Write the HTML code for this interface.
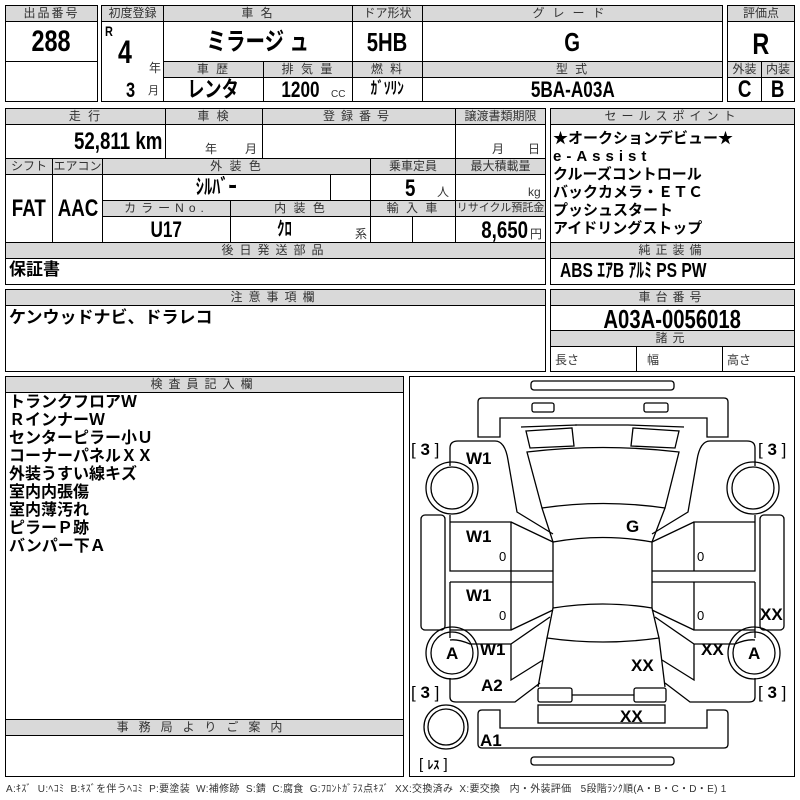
<!DOCTYPE html>
<html><head><meta charset="utf-8">
<style>
*{margin:0;padding:0;box-sizing:border-box}
body{width:800px;height:800px;background:#fff;position:relative;overflow:hidden;font-family:"Liberation Sans","Noto Sans CJK JP",sans-serif;color:#000}
.h{position:absolute;background:#d9d9d9;border:1px solid #000;font-size:12px;line-height:14px;text-align:center;color:#333;letter-spacing:2px;white-space:nowrap;overflow:hidden}
.v{position:absolute;font-weight:bold;text-align:center;white-space:nowrap;line-height:1}
.n{display:inline-block;transform:scaleX(.78);transform-origin:center}
.nl{display:inline-block;transform:scaleX(.78);transform-origin:left}
.nr{display:inline-block;transform:scaleX(.78);transform-origin:right}
.c{position:absolute;border:1px solid #000;background:#fff}
.s{position:absolute;font-size:12px;color:#333;white-space:nowrap;line-height:1}
.t{position:absolute;font-weight:bold;white-space:nowrap;line-height:1}
.d div{white-space:nowrap}
</style></head><body>

<div class="c" style="left:5px;top:5px;width:93px;height:97px"></div>
<div class="h" style="left:5px;top:5px;width:93px;height:17px">出品番号</div>
<div class="c" style="left:5px;top:61px;width:93px;height:41px"></div>
<div class="v" style="left:5px;top:27px;width:93px;font-size:30px"><span class="n">288</span></div>

<div class="c" style="left:101px;top:5px;width:622px;height:97px"></div>
<div class="h" style="left:101px;top:5px;width:63px;height:17px;letter-spacing:0">初度登録</div>
<div class="h" style="left:163px;top:5px;width:190px;height:17px">車 名</div>
<div class="h" style="left:352px;top:5px;width:71px;height:17px;letter-spacing:0">ドア形状</div>
<div class="h" style="left:422px;top:5px;width:301px;height:17px;letter-spacing:8px">グレード</div>
<div class="c" style="left:163px;top:21px;width:190px;height:41px"></div>
<div class="c" style="left:352px;top:21px;width:71px;height:41px"></div>
<div class="c" style="left:422px;top:21px;width:301px;height:41px"></div>
<div class="h" style="left:163px;top:61px;width:101px;height:17px">車 歴</div>
<div class="h" style="left:263px;top:61px;width:90px;height:17px">排 気 量</div>
<div class="h" style="left:352px;top:61px;width:71px;height:17px">燃 料</div>
<div class="h" style="left:422px;top:61px;width:301px;height:17px">型 式</div>
<div class="c" style="left:163px;top:77px;width:101px;height:25px"></div>
<div class="c" style="left:263px;top:77px;width:90px;height:25px"></div>
<div class="c" style="left:352px;top:77px;width:71px;height:25px"></div>
<div class="t" style="left:105px;top:24px;font-size:14px"><span class="nl">R</span></div>
<div class="v" style="left:118px;top:36px;font-size:32px"><span class="nl">4</span></div>
<div class="s" style="left:149px;top:62px">年</div>
<div class="v" style="left:126px;top:80px;font-size:21px"><span class="nl">3</span></div>
<div class="s" style="left:148px;top:86px;font-size:11px">月</div>
<div class="v" style="left:163px;top:30px;width:190px;font-size:25px"><span class="n">ミラージ ュ</span></div>
<div class="v" style="left:352px;top:29px;width:71px;font-size:26px"><span class="n">5HB</span></div>
<div class="v" style="left:422px;top:29px;width:301px;font-size:26px"><span class="n">G</span></div>
<div class="v" style="left:163px;top:79px;width:101px;font-size:22px"><span class="n">レンタ</span></div>
<div class="v" style="left:270px;top:79px;width:60px;font-size:22px"><span class="n">1200</span></div>
<div class="s" style="left:331px;top:90px;font-size:10px">CC</div>
<div class="v" style="left:352px;top:80px;width:71px;font-size:17px"><span class="n">ｶﾞｿﾘﾝ</span></div>
<div class="v" style="left:422px;top:79px;width:301px;font-size:22px"><span class="n">5BA-A03A</span></div>

<div class="c" style="left:727px;top:5px;width:68px;height:97px"></div>
<div class="h" style="left:727px;top:5px;width:68px;height:17px;letter-spacing:0">評価点</div>
<div class="h" style="left:727px;top:61px;width:35px;height:17px;letter-spacing:0">外装</div>
<div class="h" style="left:761px;top:61px;width:34px;height:17px;letter-spacing:0">内装</div>
<div class="c" style="left:761px;top:77px;width:34px;height:25px"></div>
<div class="v" style="left:727px;top:30px;width:68px;font-size:30px"><span class="n">R</span></div>
<div class="v" style="left:727px;top:78px;width:35px;font-size:24px"><span class="n">C</span></div>
<div class="v" style="left:761px;top:78px;width:34px;font-size:24px"><span class="n">B</span></div>

<div class="c" style="left:5px;top:108px;width:541px;height:177px"></div>
<div class="h" style="left:5px;top:108px;width:161px;height:17px">走 行</div>
<div class="h" style="left:165px;top:108px;width:98px;height:17px">車 検</div>
<div class="h" style="left:262px;top:108px;width:194px;height:17px;letter-spacing:6px">登録番号</div>
<div class="h" style="left:455px;top:108px;width:91px;height:17px;letter-spacing:0">譲渡書類期限</div>
<div class="c" style="left:165px;top:124px;width:98px;height:35px"></div>
<div class="c" style="left:262px;top:124px;width:194px;height:35px"></div>
<div class="v" style="left:40px;top:130px;width:122px;text-align:right;font-size:24px"><span class="nr">52,811 km</span></div>
<div class="s" style="left:205px;top:143px">年</div>
<div class="s" style="left:245px;top:143px">月</div>
<div class="s" style="left:492px;top:143px">月</div>
<div class="s" style="left:528px;top:143px">日</div>
<div class="h" style="left:5px;top:158px;width:48px;height:17px;letter-spacing:0">シフト</div>
<div class="h" style="left:52px;top:158px;width:51px;height:17px;letter-spacing:0">エアコン</div>
<div class="h" style="left:102px;top:158px;width:269px;height:17px">外 装 色</div>
<div class="h" style="left:370px;top:158px;width:86px;height:17px;letter-spacing:0">乗車定員</div>
<div class="h" style="left:455px;top:158px;width:91px;height:17px;letter-spacing:0">最大積載量</div>
<div class="c" style="left:5px;top:174px;width:48px;height:69px"></div>
<div class="c" style="left:52px;top:174px;width:51px;height:69px"></div>
<div class="c" style="left:102px;top:174px;width:229px;height:27px"></div>
<div class="c" style="left:330px;top:174px;width:41px;height:27px"></div>
<div class="c" style="left:370px;top:174px;width:86px;height:27px"></div>
<div class="c" style="left:455px;top:174px;width:91px;height:27px"></div>
<div class="h" style="left:102px;top:200px;width:129px;height:17px;letter-spacing:5px">カラーNo.</div>
<div class="h" style="left:230px;top:200px;width:141px;height:17px">内 装 色</div>
<div class="h" style="left:370px;top:200px;width:86px;height:17px">輸 入 車</div>
<div class="h" style="left:455px;top:200px;width:91px;height:17px;letter-spacing:0;font-size:11px">リサイクル預託金</div>
<div class="c" style="left:102px;top:216px;width:129px;height:27px"></div>
<div class="c" style="left:230px;top:216px;width:141px;height:27px"></div>
<div class="c" style="left:370px;top:216px;width:43px;height:27px"></div>
<div class="c" style="left:412px;top:216px;width:44px;height:27px"></div>
<div class="v" style="left:5px;top:197px;width:48px;font-size:24px"><span class="n">FAT</span></div>
<div class="v" style="left:52px;top:197px;width:51px;font-size:24px"><span class="n">AAC</span></div>
<div class="v" style="left:102px;top:177px;width:229px;font-size:21px"><span class="n">ｼﾙﾊﾞｰ</span></div>
<div class="v" style="left:405px;top:177px;font-size:24px"><span class="nl">5</span></div>
<div class="s" style="left:437px;top:186px">人</div>
<div class="s" style="left:528px;top:186px">kg</div>
<div class="v" style="left:102px;top:219px;width:129px;font-size:22px"><span class="n">U17</span></div>
<div class="v" style="left:230px;top:220px;width:110px;font-size:19px"><span class="n">ｸﾛ</span></div>
<div class="s" style="left:355px;top:228px">系</div>
<div class="v" style="left:455px;top:219px;width:73px;text-align:right;font-size:24px"><span class="nr">8,650</span></div>
<div class="s" style="left:530px;top:228px">円</div>
<div class="h" style="left:5px;top:242px;width:541px;height:17px;letter-spacing:6px">後日発送部品</div>
<div class="t" style="left:9px;top:261px;font-size:17px">保証書</div>

<div class="c" style="left:550px;top:108px;width:245px;height:151px"></div>
<div class="h" style="left:550px;top:108px;width:245px;height:17px;letter-spacing:5px">セールスポイント</div>
<div class="t" style="left:553px;top:130px;font-size:15px;line-height:18px">★オークションデビュー★<br><span style="letter-spacing:5px">e-Assist</span><br>クルーズコントロール<br>バックカメラ・ＥＴＣ<br>プッシュスタート<br>アイドリングストップ</div>
<div class="c" style="left:550px;top:242px;width:245px;height:43px"></div>
<div class="h" style="left:550px;top:242px;width:245px;height:17px;letter-spacing:5px">純正装備</div>
<div class="v" style="left:560px;top:261px;font-size:20px"><span class="nl">ABS ｴｱB ｱﾙﾐ PS PW</span></div>

<div class="c" style="left:5px;top:289px;width:541px;height:83px"></div>
<div class="h" style="left:5px;top:289px;width:541px;height:17px;letter-spacing:6px">注意事項欄</div>
<div class="t" style="left:9px;top:309px;font-size:17px">ケンウッドナビ、ドラレコ</div>

<div class="c" style="left:550px;top:289px;width:245px;height:83px"></div>
<div class="h" style="left:550px;top:289px;width:245px;height:17px;letter-spacing:5px">車台番号</div>
<div class="v" style="left:550px;top:306px;width:245px;font-size:26px"><span class="n">A03A-0056018</span></div>
<div class="h" style="left:550px;top:330px;width:245px;height:17px;letter-spacing:5px">諸元</div>
<div class="c" style="left:636px;top:346px;width:87px;height:26px"></div>
<div class="s" style="left:555px;top:354px">長さ</div>
<div class="s" style="left:647px;top:354px">幅</div>
<div class="s" style="left:727px;top:354px">高さ</div>

<div class="c" style="left:5px;top:376px;width:399px;height:401px"></div>
<div class="h" style="left:5px;top:376px;width:399px;height:17px;letter-spacing:6px">検査員記入欄</div>
<div class="t" style="left:9px;top:394px;font-size:16px;line-height:18px">トランクフロアＷ<br>Ｒインナー<span>Ｗ</span><br>センターピラー小Ｕ<br>コーナーパネルＸＸ<br>外装うすい線キズ<br>室内内張傷<br>室内薄汚れ<br>ピラーＰ跡<br>バンパー下Ａ</div>
<div class="h" style="left:5px;top:719px;width:399px;height:17px;letter-spacing:10px">事務局よりご案内</div>

<div class="c" style="left:409px;top:376px;width:386px;height:401px"></div>
<svg style="position:absolute;left:0;top:0" width="800" height="800" viewBox="0 0 800 800" fill="none" stroke="#000" stroke-width="1.3">
<rect x="531" y="381" width="143" height="9" rx="3"/>
<path d="M478,437 V402 Q478,398 482,398 H724 Q728,398 728,402 V437 H707 V418 H500 V437 Z"/>
<rect x="532" y="403" width="22" height="9" rx="2"/>
<rect x="644" y="403" width="24" height="9" rx="2"/>
<path d="M521,427 L577,425 M526,431 L572,428 L574,446 L530,448 Z"/>
<path d="M628,425 L684,427 M633,428 L679,431 L675,448 L631,446 Z"/>
<path d="M575,425 L628,425"/>
<path d="M527,452 Q603,443 679,452 L665,508 Q603,499 542,508 Z"/>
<path d="M542,508 L553,542 Q603,533 652,542 L665,508"/>
<path d="M553,542 V608 Q603,600 652,608 V542"/>
<path d="M553,608 L547,638 Q603,646 659,638 L652,608"/>
<path d="M547,638 L538,687 M659,638 L665,687"/>
<rect x="538" y="688" width="34" height="14" rx="2"/>
<rect x="634" y="688" width="32" height="14" rx="2"/>
<path d="M572,695 H634"/>
<rect x="538" y="705" width="127" height="18"/>
<path d="M478,714 Q478,710 482,710 H500 V728 H707 V710 H724 Q728,710 728,714 V744 Q728,748 724,748 H482 Q478,748 478,744 Z"/>
<rect x="531" y="757" width="143" height="8" rx="3"/>
<path d="M450,466 V448 Q450,441 458,441 H495 Q505,441 508,460 L517,512 L553,534"/>
<path d="M755,466 V448 Q755,441 747,441 H710 Q700,441 697,460 L688,512 L652,534"/>
<path d="M450,515 V522 H511 V571 H450 V522 M511,522 L553,542 M450,571 H553 M450,582 H553 M450,582 V630 H511 V582 M511,630 L553,610 M450,630 V638"/>
<path d="M511,571 V582"/>
<path d="M755,515 V522 H694 V571 H755 V522 M694,522 L652,542 M755,571 H652 M755,582 H652 M755,582 V630 H694 V582 M694,630 L652,610 M755,630 V638"/>
<path d="M450,678 V697 Q450,702 456,702 H515 L540,683 M511,644 L550,617 M511,644 V680 L543,660 M450,640 Q458,639 470,644 H511"/>
<path d="M755,678 V697 Q755,702 749,702 H690 L665,683 M694,644 L655,617 M694,644 V680 L662,660 M755,640 Q747,639 735,644 H694"/>
<rect x="421" y="515" width="24" height="115" rx="4"/>
<rect x="760" y="515" width="24" height="115" rx="4"/>
<circle cx="452" cy="488" r="26"/><circle cx="452" cy="488" r="21"/>
<circle cx="753" cy="488" r="26"/><circle cx="753" cy="488" r="21"/>
<circle cx="452" cy="653" r="26"/><circle cx="452" cy="653" r="21"/>
<circle cx="754" cy="653" r="26"/><circle cx="754" cy="653" r="21"/>
<circle cx="446" cy="727" r="22"/><circle cx="446" cy="727" r="18"/>
</svg>
<div class="d" style="position:absolute;left:0;top:0;font-family:'Liberation Sans',sans-serif;font-weight:bold;font-size:17px;line-height:1">
<div style="position:absolute;left:411px;top:441px;font-weight:normal">[&nbsp;<b>3</b>&nbsp;]</div>
<div style="position:absolute;left:758px;top:441px;font-weight:normal">[&nbsp;<b>3</b>&nbsp;]</div>
<div style="position:absolute;left:411px;top:684px;font-weight:normal">[&nbsp;<b>3</b>&nbsp;]</div>
<div style="position:absolute;left:758px;top:684px;font-weight:normal">[&nbsp;<b>3</b>&nbsp;]</div>
<div style="position:absolute;left:466px;top:450px">W1</div>
<div style="position:absolute;left:466px;top:528px">W1</div>
<div style="position:absolute;left:466px;top:587px">W1</div>
<div style="position:absolute;left:480px;top:641px">W1</div>
<div style="position:absolute;left:481px;top:677px">A2</div>
<div style="position:absolute;left:480px;top:732px">A1</div>
<div style="position:absolute;left:626px;top:518px">G</div>
<div style="position:absolute;left:760px;top:606px">XX</div>
<div style="position:absolute;left:701px;top:641px">XX</div>
<div style="position:absolute;left:631px;top:657px">XX</div>
<div style="position:absolute;left:620px;top:708px">XX</div>
<div style="position:absolute;left:446px;top:645px">A</div>
<div style="position:absolute;left:748px;top:645px">A</div>
<div style="position:absolute;left:499px;top:550px;font-weight:normal;font-size:13px">0</div>
<div style="position:absolute;left:499px;top:609px;font-weight:normal;font-size:13px">0</div>
<div style="position:absolute;left:697px;top:550px;font-weight:normal;font-size:13px">0</div>
<div style="position:absolute;left:697px;top:609px;font-weight:normal;font-size:13px">0</div>
<div style="position:absolute;left:419px;top:757px;font-weight:normal;font-size:15px">[&nbsp;<b style="font-family:'Noto Sans CJK JP',sans-serif;font-size:12px">ﾚｽ</b>&nbsp;]</div>
</div>

<div class="s" style="left:6px;top:785px;font-size:10px;letter-spacing:0.3px">A:ｷｽﾞ&nbsp; U:ﾍｺﾐ&nbsp; B:ｷｽﾞを伴うﾍｺﾐ&nbsp; P:要塗装&nbsp; W:補修跡&nbsp; S:錆&nbsp; C:腐食&nbsp; G:ﾌﾛﾝﾄｶﾞﾗｽ点ｷｽﾞ&nbsp; XX:交換済み&nbsp; X:要交換&nbsp;&nbsp; 内・外装評価&nbsp;&nbsp; 5段階ﾗﾝｸ順(A・B・C・D・E) 1</div>
</body></html>
